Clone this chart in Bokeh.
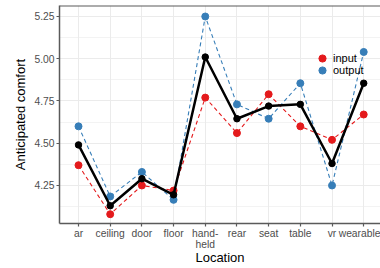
import numpy as np
from bokeh.plotting import figure
from bokeh.models import FixedTicker, Range1d, Legend, LegendItem, Span
from bokeh.embed import file_html
from bokeh.resources import INLINE

categories = ["ar", "ceiling", "door", "floor", "hand-\nheld", "rear", "seat", "table", "vr", "wearable"]
input_vals = [4.37, 4.08, 4.25, 4.22, 4.77, 4.56, 4.79, 4.60, 4.52, 4.67]
output_vals = [4.60, 4.185, 4.33, 4.165, 5.25, 4.73, 4.645, 4.855, 4.25, 5.04]
mean_vals = [4.49, 4.13, 4.29, 4.195, 5.01, 4.645, 4.72, 4.73, 4.38, 4.855]
y_ticks = [4.25, 4.50, 4.75, 5.00, 5.25]
y_minor = [4.125, 4.375, 4.625, 4.875, 5.125]

RED = "#E41A1C"
BLUE = "#377EB8"
AXIS = "#5a5a5a"
TICKLAB = "#4d4d4d"
GRID = "#ebebeb"
FONT = "Liberation Sans"

x = list(range(1, len(categories) + 1))
Y_TOP = 5.315

p = figure(width=380, height=268, output_backend="svg", toolbar_location=None,
           x_range=Range1d(0.4, 10.53), y_range=Range1d(4.025, Y_TOP),
           min_border_left=59, min_border_right=0, min_border_top=5, min_border_bottom=45)
p.outline_line_color = None
p.background_fill_color = "white"
p.border_fill_color = "white"

# grids
p.xgrid.ticker = FixedTicker(ticks=x)
p.xgrid.grid_line_color = GRID
p.xgrid.grid_line_width = 1
p.ygrid.ticker = FixedTicker(ticks=y_ticks, minor_ticks=y_minor)
p.ygrid.grid_line_color = GRID
p.ygrid.grid_line_width = 1
p.ygrid.minor_grid_line_color = GRID
p.ygrid.minor_grid_line_width = 0.6

# axes
p.xaxis.ticker = FixedTicker(ticks=x)
p.xaxis.major_label_overrides = {xi: c for xi, c in zip(x, categories)}
p.yaxis.ticker = FixedTicker(ticks=y_ticks)
p.yaxis.major_label_overrides = {t: f"{t:.2f}" for t in y_ticks}
for ax in (p.xaxis[0], p.yaxis[0]):
    ax.axis_line_color = AXIS
    ax.axis_line_width = 1.5
    ax.major_tick_line_color = AXIS
    ax.major_tick_line_width = 1.2
    ax.major_tick_out = 3
    ax.major_tick_in = 0
    ax.minor_tick_line_color = None
    ax.major_label_text_font = FONT
    ax.major_label_text_font_size = "10.3px"
    ax.major_label_text_color = TICKLAB
    ax.axis_label_text_font = FONT
    ax.axis_label_text_font_size = "13px"
    ax.axis_label_text_font_style = "normal"
    ax.axis_label_text_color = "black"
p.yaxis.major_label_standoff = 2
p.xaxis.major_label_standoff = 1
p.yaxis.axis_label_standoff = 3
p.xaxis.axis_label_standoff = -3
p.xaxis.major_label_text_line_height = 1.0
p.xaxis.axis_label = "Location"
p.yaxis.axis_label = "Anticipated comfort"

top = Span(location=Y_TOP, dimension="width", line_color=AXIS, line_width=2)
p.add_layout(top)

# series
p.line(x, input_vals, line_color=RED, line_width=1.1, line_dash="4 3")
r_in = p.scatter(x, input_vals, size=7, fill_color=RED, line_color=RED)
p.line(x, output_vals, line_color=BLUE, line_width=1.1, line_dash="4 3")
r_out = p.scatter(x, output_vals, size=7, fill_color=BLUE, line_color=BLUE)
p.line(x, mean_vals, line_color="black", line_width=2.5)
p.scatter(x, mean_vals, size=6.5, fill_color="black", line_color="black")


def make_legend(label, renderer, loc):
    lg = Legend(items=[LegendItem(label=label, renderers=[renderer])], location=loc)
    lg.glyph_width = 18
    lg.glyph_height = 18
    lg.label_height = 18
    lg.label_standoff = 2
    lg.spacing = 0
    lg.padding = 0
    lg.margin = 0
    lg.border_line_color = None
    lg.background_fill_alpha = 0
    lg.label_text_font = FONT
    lg.label_text_font_size = "11px"
    lg.label_text_color = "black"
    return lg


p.add_layout(make_legend("input", r_in, (254, 156)), "center")
p.add_layout(make_legend("output", r_out, (254, 144)), "center")

open("out.html", "w").write(file_html(p, INLINE))
